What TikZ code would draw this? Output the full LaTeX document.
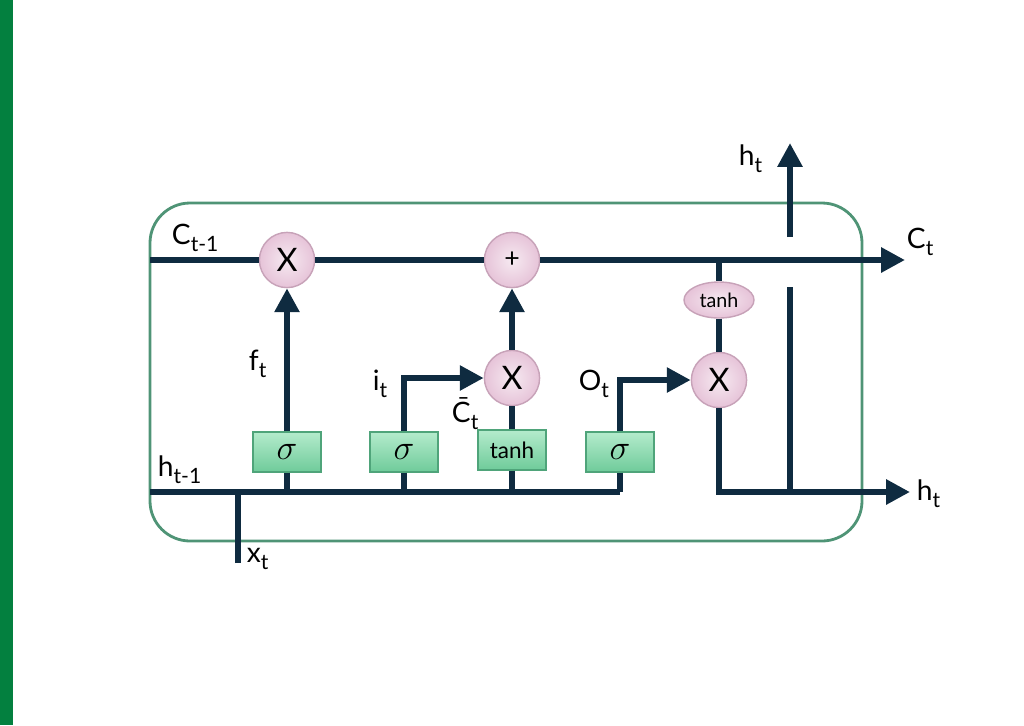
\documentclass[tikz,border=0pt]{standalone}
\usepackage{fontspec}
\setmainfont{Lato}
\usetikzlibrary{arrows.meta,shapes.geometric,positioning}
\definecolor{lineblue}{HTML}{0F2B40}
\definecolor{framegreen}{HTML}{4F9476}
\definecolor{bargreen}{HTML}{03803F}
\definecolor{gatetop}{HTML}{B4EBCC}
\definecolor{gatebot}{HTML}{6FCB9A}
\definecolor{gateedge}{HTML}{4FA47A}
\definecolor{opfill}{HTML}{E6C3D8}
\definecolor{opedge}{HTML}{C7A2B8}
\newcommand{\lstmsub}[2]{#1\raisebox{-0.55ex}{\fontsize{15}{15}\selectfont #2}}

\begin{document}
\begin{tikzpicture}
		[x=0.025cm,y=-0.025cm,
		font=\fontsize{20}{20}\selectfont,
		>={Triangle[length=17pt,width=17pt]}
		]
		
		% Styles: gates, pointwise operations, signal lines
		\tikzstyle{gate node}=[rectangle,draw=gateedge,line width=1pt,top color=gatetop,bottom color=gatebot,minimum width=1.7cm,minimum height=1cm,inner sep=0pt]
		\tikzstyle{op node}=[circle,draw=opedge,line width=1pt,inner color=opfill!35,outer color=opfill,minimum size=1.38cm,inner sep=0pt,font=\fontsize{23}{23}\selectfont]
		\tikzstyle{tanh node}=[ellipse,draw=opedge,line width=1pt,inner color=opfill!35,outer color=opfill,minimum width=1.75cm,minimum height=0.9cm,inner sep=0pt,font=\fontsize{14}{14}\selectfont]
		\tikzstyle{signal}=[draw=lineblue,line width=4.6pt]
		
		% Page and frame
		\useasboundingbox (0,0) rectangle (1024,725);
		\fill[bargreen] (0,0) rectangle (13,725);
		\draw[framegreen,line width=2pt,rounded corners=1cm] (150,203) rectangle (862,541);
		
		% Pointwise operations
		\node(x1)[op node] at (287,260) {X};
		\node(add)[op node,font=\fontsize{19}{19}\selectfont] at (512,260) {+};
		\node(x2)[op node] at (512,378) {X};
		\node(x3)[op node] at (719,380) {X};
		\node(th)[tanh node] at (719,300) {tanh};
		
		% Gates
		\node(g1)[gate node] at (287,452) {\fontsize{30}{30}\selectfont$\sigma$};
		\node(g2)[gate node] at (404,452) {\fontsize{30}{30}\selectfont$\sigma$};
		\node(gt)[gate node] at (512,450) {\fontsize{16}{16}\selectfont tanh};
		\node(g3)[gate node] at (620,452) {\fontsize{30}{30}\selectfont$\sigma$};
		
		% Ends of the lines
		\coordinate(cin) at (150,260);
		\coordinate(cout) at (905,260);
		\coordinate(hin) at (150,492);
		\coordinate(hend) at (620,492);
		\coordinate(hbend) at (719,492);
		\coordinate(hout) at (910,492);
		\coordinate(xin) at (238,563);
		\coordinate(ctap) at (719,260);
		\coordinate(hup) at (790,237);
		\coordinate(hupend) at (790,143);
		\coordinate(hgap) at (790,287);
		
		% Cell state
		\draw[signal](cin)--(x1.west);
		\draw[signal](x1.east)--(add.west);
		\draw[signal,->](add.east)--(cout);
		
		% Input and previous output
		\draw[signal](hin)--(hend);
		\draw[signal](xin)--(xin |- hin);
		\foreach \g in {g1, g2, gt, g3} \draw[signal](\g.south)--(\g |- hin);
		
		% Gate outputs
		\draw[signal,->](g1.north)--(x1.south);
		\draw[signal,->,line join=miter](g2.north)--(g2 |- x2)--(x2.west);
		\draw[signal](gt.north)--(x2.south);
		\draw[signal,->](x2.north)--(add.south);
		\draw[signal,->,line join=miter](g3.north)--(g3 |- x3)--(x3.west);
		
		% Output
		\draw[signal](ctap)--(th.north);
		\draw[signal](th.south)--(x3.north);
		\draw[signal,->,line join=miter](x3.south)--(hbend)--(hout);
		\draw[signal](hgap |- hout)--(hgap);
		\draw[signal,->](hup)--(hupend);
		
		% Labels
		\node[anchor=base west] at (167,244) {\lstmsub{C}{t-1}};
		\node[anchor=base west] at (902,248) {\lstmsub{C}{t}};
		\node[anchor=base west] at (734,165) {\lstmsub{h}{t}};
		\node[anchor=base west] at (912,500) {\lstmsub{h}{t}};
		\node[anchor=base west] at (153,476) {\lstmsub{h}{t-1}};
		\node[anchor=base west] at (242,562) {\lstmsub{x}{t}};
		\node[anchor=base west] at (244,370) {\lstmsub{f}{t}};
		\node[anchor=base west] at (368,390) {\lstmsub{i}{t}};
		\node[anchor=base west] at (447,422) {\lstmsub{\={C}}{t}};
		\node[anchor=base west] at (574,390) {\lstmsub{O}{t}};
		\end{tikzpicture}
\end{document}
